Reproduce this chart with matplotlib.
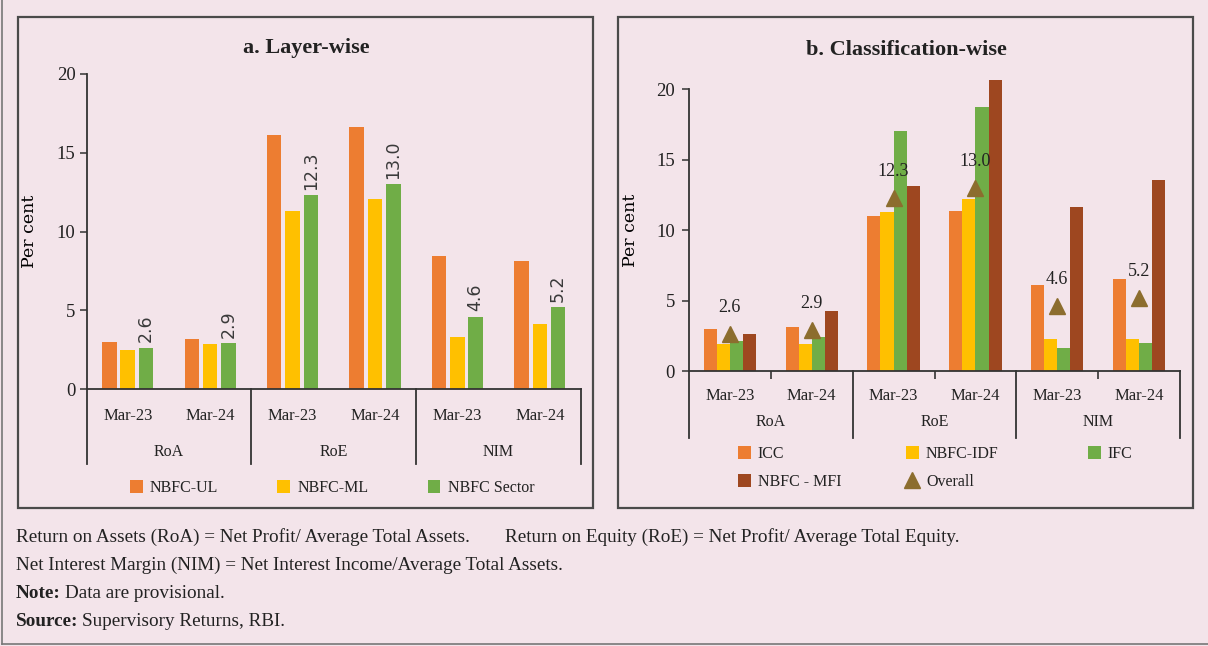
import matplotlib
matplotlib.use("Agg")
import matplotlib.pyplot as plt
from matplotlib.patches import Rectangle
from matplotlib.lines import Line2D
import numpy as np

# ---------------- data ----------------
periods = ["Mar-23", "Mar-24", "Mar-23", "Mar-24", "Mar-23", "Mar-24"]
groups = ["RoA", "RoE", "NIM"]

# Panel a: layer-wise
nbfc_ul = [3.0, 3.15, 16.15, 16.65, 8.45, 8.1]
nbfc_ml = [2.5, 2.85, 11.3, 12.05, 3.3, 4.15]
nbfc_sector = [2.6, 2.9, 12.3, 13.0, 4.6, 5.2]
sector_labels = ["2.6", "2.9", "12.3", "13.0", "4.6", "5.2"]

# Panel b: classification-wise
icc = [2.95, 3.15, 11.0, 11.35, 6.1, 6.5]
nbfc_idf = [1.95, 1.95, 11.25, 12.2, 2.25, 2.3]
ifc = [2.1, 2.4, 17.0, 18.75, 1.6, 2.0]
nbfc_mfi = [2.6, 4.25, 13.1, 20.65, 11.65, 13.55]
overall = [2.6, 2.9, 12.3, 13.0, 4.6, 5.2]
overall_labels = ["2.6", "2.9", "12.3", "13.0", "4.6", "5.2"]

yticks = [0, 5, 10, 15, 20]

# ---------------- style ----------------
BG = "#F3E4EA"
ORANGE = "#ED7D31"
YELLOW = "#FFC000"
GREEN = "#70AD47"
BROWN = "#9E4720"
OLIVE = "#8C6D2E"
AXC = "#333333"
SERIF = ["Liberation Serif", "DejaVu Serif"]

plt.rcParams["font.family"] = SERIF
plt.rcParams["text.color"] = "#222222"

W, H = 1208, 646
fig = plt.figure(figsize=(W / 100, H / 100), dpi=100, facecolor=BG)


def fx(px):
    return px / W


def fy(py):
    return 1 - py / H


# outer frame (left + bottom)
fig.add_artist(Line2D([fx(2), fx(2)], [fy(0), fy(644)], color="#777777", lw=1.2))
fig.add_artist(Line2D([fx(2), fx(1208)], [fy(644), fy(644)], color="#777777", lw=1.2))

# panel boxes
for x0, x1 in [(18, 593), (618, 1193)]:
    fig.add_artist(Rectangle((fx(x0), fy(508)), fx(x1) - fx(x0), fy(17) - fy(508),
                             fill=False, ec="#4a4a4a", lw=1.6))

fig.text(fx(306), fy(48), "a. Layer-wise", ha="center", va="center",
         fontsize=16, fontweight="bold")
fig.text(fx(906), fy(50), "b. Classification-wise", ha="center", va="center",
         fontsize=16, fontweight="bold")

x = np.arange(len(periods))


def style_axis(ax, ypad_lab, label_pad, sep_depth, group_y, ylabel_xy):
    ax.set_facecolor(BG)
    for s in ["top", "right"]:
        ax.spines[s].set_visible(False)
    for s in ["left", "bottom"]:
        ax.spines[s].set_color(AXC)
        ax.spines[s].set_linewidth(1.3)
    ax.set_xlim(-0.5, 5.5)
    ax.set_yticks(yticks)
    ax.tick_params(axis="y", direction="out", length=5, width=1.1, color=AXC,
                   labelsize=13.5, pad=ypad_lab, labelcolor="#222222")
    ax.set_xticks(x)
    ax.set_xticklabels(periods)
    ax.tick_params(axis="x", which="major", length=0, labelsize=12, pad=label_pad,
                   labelcolor="#222222")
    tr = ax.get_xaxis_transform()
    for sx in [-0.5, 1.5, 3.5, 5.5]:
        ax.plot([sx, sx], [0, -sep_depth], transform=tr, color=AXC, lw=1.3,
                clip_on=False)
    for gi, g in enumerate(groups):
        ax.text(gi * 2 + 0.5, group_y, g, transform=tr, ha="center", va="center",
                fontsize=11.5)
    ax.set_ylabel("Per cent", fontsize=12.5, family=["DejaVu Serif"])
    ax.yaxis.set_label_coords(*ylabel_xy)


# ---------------- panel a ----------------
axa = fig.add_axes([fx(86.5), fy(389), fx(581) - fx(86.5), fy(74) - fy(389)])
axa.set_ylim(0, 20)
bw_a, st_a = 0.176, 0.222
axa.bar(x - st_a, nbfc_ul, bw_a, color=ORANGE, label="NBFC-UL")
axa.bar(x, nbfc_ml, bw_a, color=YELLOW, label="NBFC-ML")
axa.bar(x + st_a, nbfc_sector, bw_a, color=GREEN, label="NBFC Sector")
for xi, v, lab in zip(x, nbfc_sector, sector_labels):
    axa.annotate(lab, (xi + st_a, v), xytext=(0, 4), textcoords="offset points",
                 rotation=90, ha="center", va="bottom", fontsize=12.5,
                 family="DejaVu Sans", color="#3a3a3a")
style_axis(axa, ypad_lab=3, label_pad=14, sep_depth=75 / 315,
           group_y=-(452 - 389) / 315, ylabel_xy=(-0.098, 0.5))
axa.legend(loc="center left", bbox_to_anchor=(fx(130), fy(488)),
           bbox_transform=fig.transFigure, ncol=3, frameon=False, fontsize=11.5,
           handlelength=0.8, handleheight=0.8, handletextpad=0.45,
           columnspacing=3.7, borderpad=0, borderaxespad=0)

# ---------------- panel b ----------------
axb = fig.add_axes([fx(689), fy(371), fx(1180) - fx(689), fy(75) - fy(371)])
axb.set_ylim(0, 21)
bw_b = 0.16
offs = [-1.5, -0.5, 0.5, 1.5]
h_icc = axb.bar(x + offs[0] * bw_b, icc, bw_b, color=ORANGE, label="ICC")
h_idf = axb.bar(x + offs[1] * bw_b, nbfc_idf, bw_b, color=YELLOW, label="NBFC-IDF")
h_ifc = axb.bar(x + offs[2] * bw_b, ifc, bw_b, color=GREEN, label="IFC")
h_mfi = axb.bar(x + offs[3] * bw_b, nbfc_mfi, bw_b, color=BROWN, label="NBFC - MFI")
h_ov, = axb.plot(x, overall, ls="none", marker="^", ms=12, color=OLIVE,
                 label="Overall")
for xi, v, lab in zip(x, overall, overall_labels):
    axb.annotate(lab, (xi, v), xytext=(0, 19), textcoords="offset points",
                 ha="center", va="center", fontsize=13, color="#222222")
axb.spines["left"].set_bounds(0, 20)
style_axis(axb, ypad_lab=5, label_pad=12, sep_depth=67 / 296,
           group_y=-(422 - 371) / 296, ylabel_xy=(-0.102, 0.476))
axb.set_xticks([0.5, 2.5, 4.5], minor=True)
axb.tick_params(axis="x", which="minor", length=6, width=1.2, color=AXC)

leg_kw = dict(bbox_transform=fig.transFigure, frameon=False, fontsize=11.5,
              handlelength=0.8, handleheight=0.8, handletextpad=0.45,
              borderpad=0, borderaxespad=0, labelspacing=0.75, loc="upper left")
leg1 = axb.legend(handles=[h_icc, h_mfi], bbox_to_anchor=(fx(738), fy(446)), **leg_kw)
axb.add_artist(leg1)
leg2 = axb.legend(handles=[h_idf, h_ov], bbox_to_anchor=(fx(906), fy(446)), **leg_kw)
axb.add_artist(leg2)
axb.legend(handles=[h_ifc], bbox_to_anchor=(fx(1088), fy(446)), **leg_kw)

# ---------------- footnotes ----------------
fs = 13.8
fig.text(fx(16), fy(537), "Return on Assets (RoA) = Net Profit/ Average Total Assets.",
         ha="left", va="center", fontsize=fs)
fig.text(fx(505), fy(537), "Return on Equity (RoE) = Net Profit/ Average Total Equity.",
         ha="left", va="center", fontsize=fs)
fig.text(fx(16), fy(565), "Net Interest Margin (NIM) = Net Interest Income/Average Total Assets.",
         ha="left", va="center", fontsize=fs)
t1 = fig.text(fx(16), fy(593), "Note:", ha="left", va="center", fontsize=fs,
              fontweight="bold")
t2 = fig.text(fx(16), fy(621), "Source:", ha="left", va="center", fontsize=fs,
              fontweight="bold")
fig.canvas.draw()
r = fig.canvas.get_renderer()
e1 = t1.get_window_extent(r)
e2 = t2.get_window_extent(r)
fig.text((e1.x1 + 4) / W, fy(593), "Data are provisional.", ha="left", va="center",
         fontsize=fs)
fig.text((e2.x1 + 4) / W, fy(621), "Supervisory Returns, RBI.", ha="left",
         va="center", fontsize=fs)

fig.savefig("out.png", dpi=100, facecolor=BG)
